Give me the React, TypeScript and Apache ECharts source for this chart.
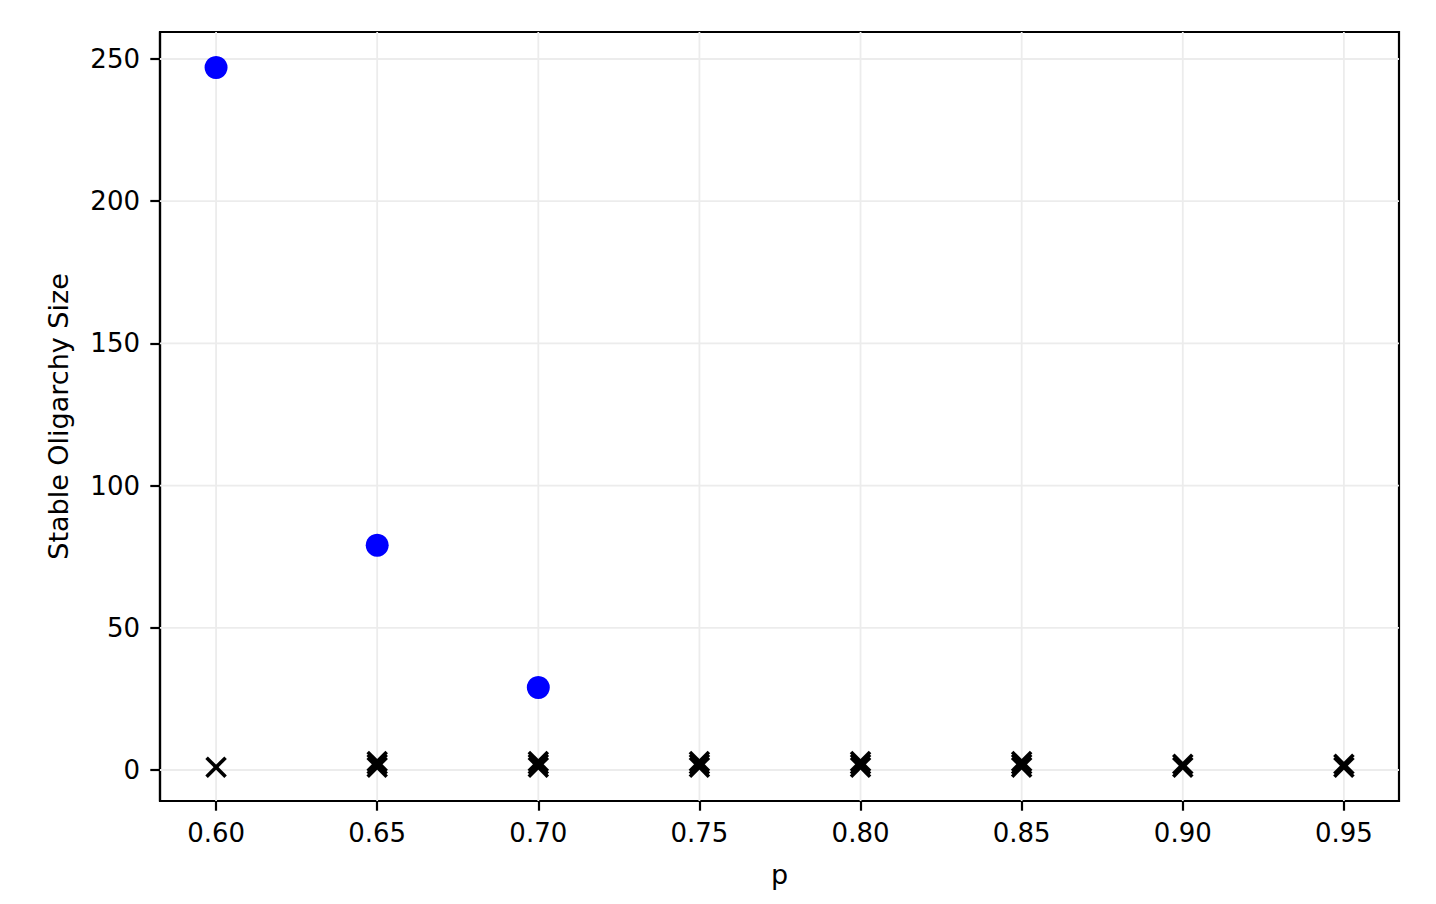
import React, { useEffect, useRef } from "react";
import * as echarts from "echarts";

const xTicks = [0.6, 0.65, 0.7, 0.75, 0.8, 0.85, 0.9, 0.95];
const yTicks = [0, 50, 100, 150, 200, 250];

// Stable oligarchies (blue circles)
const stableP = [0.6, 0.65, 0.7];
const stableSize = [247, 79, 29];

// Unstable / collapsed runs (black x markers)
const collapsedP = [0.6, 0.65, 0.65, 0.65, 0.7, 0.7, 0.7, 0.75, 0.75, 0.75, 0.8, 0.8, 0.8, 0.85, 0.85, 0.85, 0.9, 0.9, 0.95, 0.95];
const collapsedSize = [1, 1, 2, 3, 1, 2, 3, 1, 2, 3, 1, 2, 3, 1, 2, 3, 1, 2, 1, 2];

const FONT = "DejaVu Sans";
const X_MIN = 0.5826;
const X_MAX = 0.9671;
const Y_MIN = -10.9;
const Y_MAX = 259.5;

export default function App() {
  const ref = useRef<HTMLDivElement>(null);
  useEffect(() => {
    const chart = echarts.init(ref.current!, null, { renderer: "svg" });
    const gridStyle = { color: "#ececec", width: 1.8 };
    const gridSeries: any[] = [
      ...xTicks.map((v) => ({
        type: "line",
        data: [[v, Y_MIN], [v, Y_MAX]],
        symbol: "none",
        silent: true,
        lineStyle: gridStyle,
        z: 0,
      })),
      ...yTicks.map((v) => ({
        type: "line",
        data: [[X_MIN, v], [X_MAX, v]],
        symbol: "none",
        silent: true,
        lineStyle: gridStyle,
        z: 0,
      })),
    ];
    const half = 9.5;
    chart.setOption({
      animation: false,
      backgroundColor: "#ffffff",
      grid: { left: 160, top: 32, width: 1239, height: 769, show: true, borderColor: "#000", borderWidth: 2.2, backgroundColor: "transparent" },
      xAxis: {
        type: "value",
        min: X_MIN,
        max: X_MAX,
        name: "p",
        nameLocation: "middle",
        nameGap: 60,
        nameTextStyle: { fontFamily: FONT, fontSize: 27, color: "#000" },
        axisLine: { show: true, onZero: false, lineStyle: { color: "#000", width: 2.2 } },
        axisTick: { show: true, length: 9.7, lineStyle: { color: "#000", width: 2.2 }, customValues: xTicks },
        axisLabel: { fontFamily: FONT, fontSize: 26, color: "#000", margin: 19, customValues: xTicks, formatter: (v: number) => v.toFixed(2) },
        splitLine: { show: false },
      },
      yAxis: {
        type: "value",
        min: Y_MIN,
        max: Y_MAX,
        name: "Stable Oligarchy Size",
        nameLocation: "middle",
        nameGap: 88,
        nameTextStyle: { fontFamily: FONT, fontSize: 27, color: "#000" },
        axisLine: { show: true, onZero: false, lineStyle: { color: "#000", width: 2.2 } },
        axisTick: { show: true, length: 9.7, lineStyle: { color: "#000", width: 2.2 }, customValues: yTicks },
        axisLabel: { fontFamily: FONT, fontSize: 26, color: "#000", margin: 20, customValues: yTicks, formatter: (v: number) => String(Math.round(v)) },
        splitLine: { show: false },
      },
      series: [
        ...gridSeries,
        {
          type: "scatter",
          data: stableP.map((p, i) => [p, stableSize[i]]),
          symbol: "circle",
          symbolSize: 23,
          itemStyle: { color: "#0000ff", opacity: 1 },
          z: 3,
        },
        {
          type: "custom",
          data: collapsedP.map((p, i) => [p, collapsedSize[i]]),
          encode: { x: 0, y: 1 },
          renderItem: (params: any, api: any) => {
            const c = api.coord([api.value(0), api.value(1)]);
            const style = { stroke: "#000", lineWidth: 3.6, fill: "none" };
            return {
              type: "group",
              children: [
                { type: "line", shape: { x1: c[0] - half, y1: c[1] - half, x2: c[0] + half, y2: c[1] + half }, style },
                { type: "line", shape: { x1: c[0] - half, y1: c[1] + half, x2: c[0] + half, y2: c[1] - half }, style },
              ],
            };
          },
          z: 4,
        },
      ],
    });
    return () => chart.dispose();
  }, []);
  return <div ref={ref} style={{ position: "fixed", left: 0, top: 0, width: 1436, height: 904 }} />;
}
